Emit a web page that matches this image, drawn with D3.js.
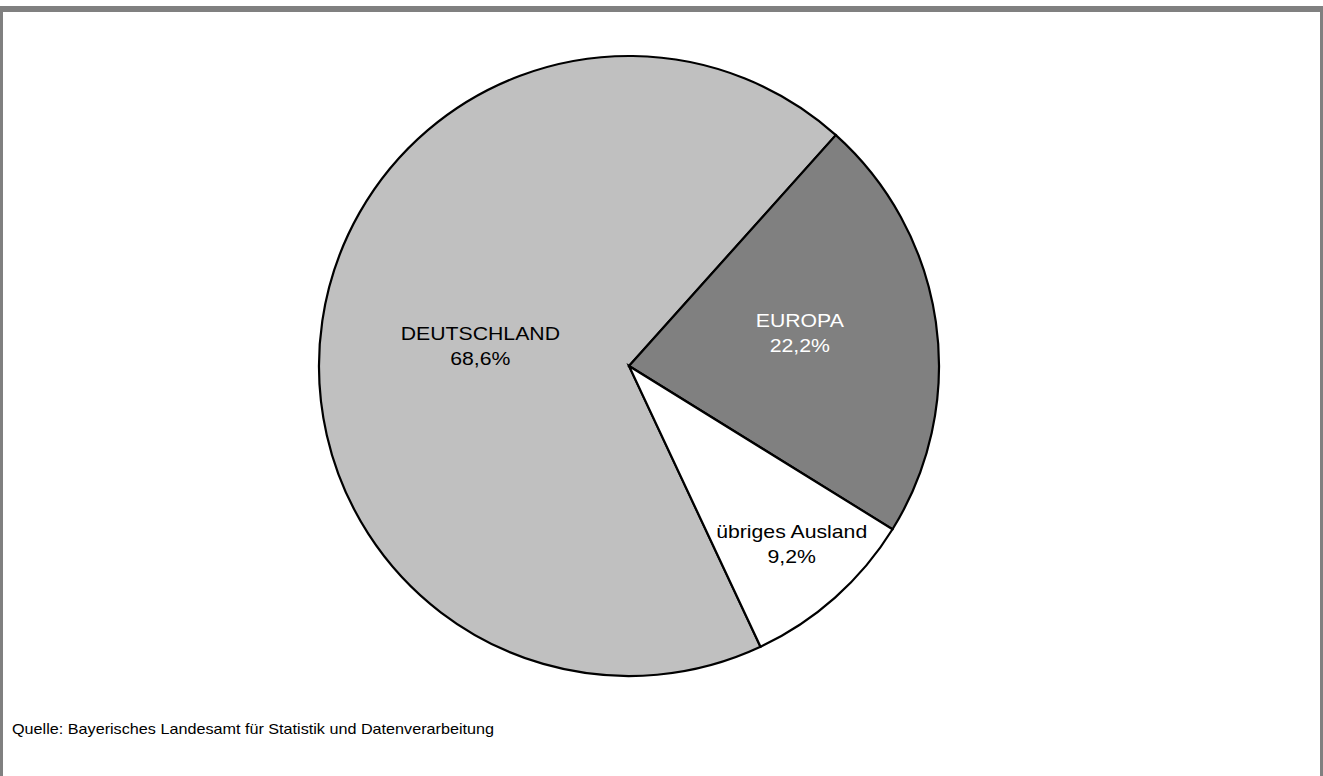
<!DOCTYPE html>
<html>
<head>
<meta charset="utf-8">
<script src="https://cdn.jsdelivr.net/npm/d3@7"></script>
<style>
  html, body { margin: 0; padding: 0; background: #fff; }
  svg { display: block; }
  text { font-family: "Liberation Sans", Arial, sans-serif; }
</style>
</head>
<body>
<svg id="chart" width="1323" height="776"></svg>
<script>
// ---- data ----
const categories = ["DEUTSCHLAND", "EUROPA", "übriges Ausland"];
const shares = [68.6, 22.2, 9.2];
const valueLabels = ["68,6%", "22,2%", "9,2%"];
const sourceNote = "Quelle: Bayerisches Landesamt für Statistik und Datenverarbeitung";

// ---- styling / layout ----
const fills = ["#c0c0c0", "#808080", "#ffffff"];
const textColors = ["#000000", "#ffffff", "#000000"];
const labelRadius = [150, 174, 241];
const labelAngleShift = [-0.7, -2.8, -0.8]; // degrees
const W = 1323, H = 776;
const cx = 629, cy = 366, R = 310;
const startDeg = 154.9;
const xStretch = 1.13;

const svg = d3.select("#chart");

// frame
svg.append("rect")
  .attr("x", 0).attr("y", 9).attr("width", W).attr("height", H + 20)
  .attr("fill", "none").attr("stroke", "#808080").attr("stroke-width", 6);

const rad = d => d * Math.PI / 180;
const pie = d3.pie().sort(null).value(d => d)
  .startAngle(rad(startDeg)).endAngle(rad(startDeg) + 2 * Math.PI);
const arcs = pie(shares);
const arc = d3.arc().innerRadius(0).outerRadius(R);

const g = svg.append("g").attr("transform", `translate(${cx},${cy})`);
g.selectAll("path.slice").data(arcs).join("path")
  .attr("class", "slice")
  .attr("d", arc)
  .attr("fill", (d, i) => fills[i])
  .attr("stroke", "#000")
  .attr("stroke-width", 2.2)
  .attr("stroke-linejoin", "miter");

// labels
const labels = g.selectAll("g.lbl").data(arcs).join("g")
  .attr("class", "lbl")
  .attr("transform", (d, i) => {
    const a = (d.startAngle + d.endAngle) / 2 + rad(labelAngleShift[i]);
    const [x, y] = d3.pointRadial(a, labelRadius[i]);
    return `translate(${x},${y}) scale(${xStretch},1)`;
  });
labels.append("text")
  .attr("text-anchor", "middle")
  .attr("y", -5.8)
  .attr("font-size", 18.8)
  .attr("fill", (d, i) => textColors[i])
  .text((d, i) => categories[i]);
labels.append("text")
  .attr("text-anchor", "middle")
  .attr("y", 19.2)
  .attr("font-size", 18.8)
  .attr("fill", (d, i) => textColors[i])
  .text((d, i) => valueLabels[i]);

// source note
svg.append("text")
  .attr("transform", `translate(12,734) scale(1.14,1)`)
  .attr("font-size", 14.2)
  .attr("fill", "#000")
  .text(sourceNote);
</script>
</body>
</html>
